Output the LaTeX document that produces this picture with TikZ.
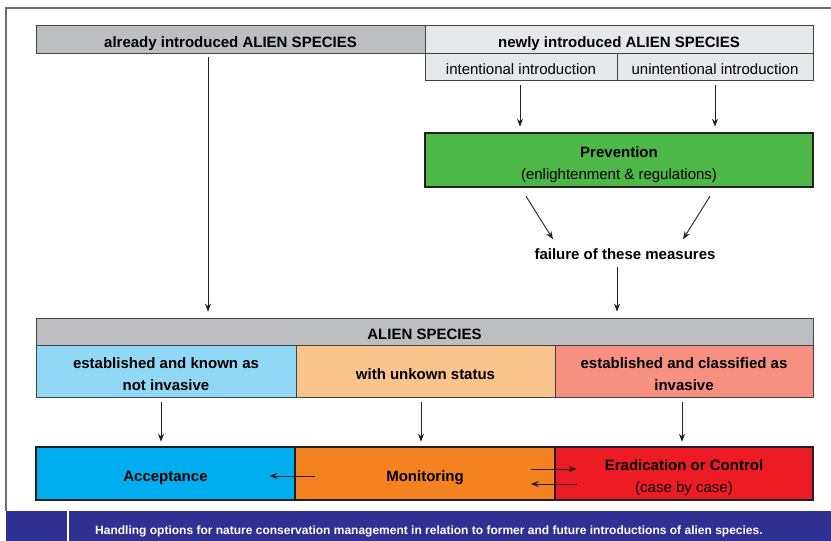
\documentclass[tikz,border=0pt]{standalone}
\usepackage{fontspec}
\setmainfont{Liberation Sans}
\usetikzlibrary{arrows.meta,calc}
\definecolor{darkgray}{HTML}{BCBEC0}
\definecolor{lightgray}{HTML}{E6E7E8}
\definecolor{prevgreen}{HTML}{4DB848}
\definecolor{lblue}{HTML}{91D8F7}
\definecolor{lorange}{HTML}{F9C38C}
\definecolor{lsalmon}{HTML}{F69182}
\definecolor{cyanb}{HTML}{00AEEF}
\definecolor{orangeb}{HTML}{F58220}
\definecolor{redb}{HTML}{ED1C24}
\definecolor{bandblue}{HTML}{2E3192}
\definecolor{boxline}{HTML}{414042}
\definecolor{thickline}{HTML}{231F20}
\definecolor{framec}{HTML}{6D6E71}
\newcommand\mytop{\rule{0pt}{20pt}}
\newcommand\mybot{\rule[-4pt]{0pt}{4pt}}
\begin{document}
\begin{tikzpicture}[x=1pt,y=-1pt,
  base/.style={inner sep=0pt, align=center, font=\fontsize{15}{22}\selectfont},
  thinbox/.style={base, draw=boxline, line width=0.8pt},
  thickbox/.style={base, draw=thickline, line width=2.5pt},
  boldtext/.style={font=\fontsize{15}{22}\selectfont\bfseries},
  arr/.style={draw=thickline, line width=0.9pt, -{Stealth[length=8pt,width=6pt]}}]
\useasboundingbox (0,0) rectangle (831,541);
% frame and caption band
\fill[bandblue] (6,511) rectangle (831,541);
\draw[framec, line width=1.2pt] (831,8) -- (6,8) -- (6,511);
\draw[white, line width=2pt] (68,511) -- (68,541);
\node[font=\fontsize{12}{14}\selectfont\bfseries, text=white, anchor=west, inner sep=0pt] (cap) at (95,531)
  {Handling options for nature conservation management in relation to former and future introductions of alien species.};
% top boxes
\node[thinbox, boldtext, fill=darkgray, minimum width=389pt, minimum height=28pt] (already) at (230.5,39) {\mytop already introduced ALIEN SPECIES\mybot};
\node[thinbox, boldtext, fill=lightgray, minimum width=388pt, minimum height=28pt] (newly) at (619,39) {\mytop newly introduced ALIEN SPECIES\mybot};
\node[thinbox, fill=lightgray, minimum width=192pt, minimum height=27pt] (intent) at (521,66.5) {\mytop intentional introduction\mybot};
\node[thinbox, fill=lightgray, minimum width=196pt, minimum height=27pt] (unint) at (715,66.5) {\mytop unintentional introduction\mybot};
% prevention
\node[thickbox, fill=prevgreen, minimum width=388pt, minimum height=54pt] (prev) at (619,160) {\mytop\textbf{Prevention}\\(enlightenment \& regulations)\mybot};
\node[base, boldtext] (fail) at (625,254) {failure of these measures};
% alien species
\node[thinbox, boldtext, fill=darkgray, minimum width=777pt, minimum height=27pt] (alien) at (424.5,331.5) {\mytop ALIEN SPECIES\mybot};
\node[thinbox, boldtext, fill=lblue, minimum width=260pt, minimum height=52pt] (est1) at (166,371) {\mytop established and known as\\not invasive\mybot};
\node[thinbox, boldtext, fill=lorange, minimum width=259pt, minimum height=52pt] (unk) at (425.5,371) {\mytop with unkown status\mybot};
\node[thinbox, boldtext, fill=lsalmon, minimum width=258pt, minimum height=52pt] (est2) at (684,371) {\mytop established and classified as\\invasive\mybot};
% bottom boxes
\node[thickbox, boldtext, fill=cyanb, minimum width=259pt, minimum height=53pt] (accept) at (165.5,473.5) {\mytop Acceptance\mybot};
\node[thickbox, boldtext, fill=orangeb, minimum width=260pt, minimum height=53pt] (monit) at (425,473.5) {\mytop Monitoring\mybot};
\node[thickbox, fill=redb, minimum width=258pt, minimum height=53pt] (erad) at (684,473.5) {\mytop\textbf{Eradication or Control}\\(case by case)\mybot};
% arrows
\draw[arr] ($(already.south)+(-22.5,4)$) -- ($(already.south |- alien.north)+(-22.5,-6)$);
\draw[arr] ($(intent.south)+(-1,5)$) -- ($(intent.south |- prev.north)+(-1,-5)$);
\draw[arr] ($(unint.south)+(0,5)$) -- ($(unint.south |- prev.north)+(0,-5)$);
\draw[arr] ($(prev.south)+(-93,8)$) -- ($(fail.north)+(-72,-9)$);
\draw[arr] ($(prev.south)+(91,8)$) -- ($(fail.north)+(58,-9)$);
\draw[arr] ($(fail.south)+(-8,7)$) -- ($(fail.south |- alien.north)+(-8,-6)$);
\draw[arr] ($(est1.south)+(-5,5)$) -- ($(est1.south |- accept.north)+(-5,-4)$);
\draw[arr] ($(unk.south)+(-4.5,5)$) -- ($(unk.south |- monit.north)+(-4.5,-4)$);
\draw[arr] ($(est2.south)+(-2,5)$) -- ($(est2.south |- erad.north)+(-2,-4)$);
\draw[arr] ($(monit.west)+(21,2.5)$) -- ($(accept.east)+(-27,2.5)$);
\draw[arr] ($(erad.west)+(-23,-4.5)$) -- ($(erad.west)+(23,-4.5)$);
\draw[arr] ($(erad.west)+(23,10.5)$) -- ($(erad.west)+(-23,10.5)$);
\end{tikzpicture}
\end{document}
